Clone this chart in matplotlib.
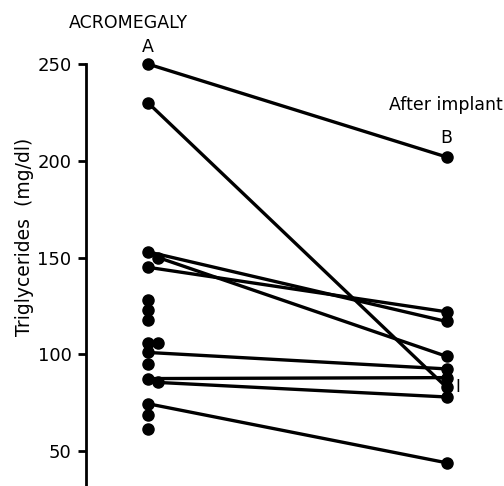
import matplotlib
matplotlib.use("Agg")
import matplotlib.pyplot as plt

# Paired measurements: before (A) and after implant (B)
pre_paired = [250, 230, 153, 150, 145, 101, 87.5, 85.5, 74.5]
post_paired = [202, 83, 117, 99, 122, 92.5, 88, 78, 44]
pre_paired_shift = [0, 0, 0, 1, 0, 0, 0, 1, 0]

# Baseline-only measurements
pre_only = [128, 123, 118, 106, 106, 95, 68.5, 61.5]
pre_only_shift = [0, 0, 0, 0, 1, 0, 0, 0]

yticks = [50, 100, 150, 200, 250]

W, H = 504, 486
fig = plt.figure(figsize=(W / 100, H / 100), dpi=100)
ax = fig.add_axes([86 / W, 0, (W - 86) / W, 1])

SHIFT = 0.035
x_pre, x_post = 0.0, 1.0

for v0, v1, s in zip(pre_paired, post_paired, pre_paired_shift):
    ax.plot([x_pre + s * SHIFT, x_post], [v0, v1], color="black", lw=2.4,
             marker="o", ms=8, solid_capstyle="round", zorder=3)

for v, s in zip(pre_only, pre_only_shift):
    ax.plot([x_pre + s * SHIFT], [v], color="black", marker="o", ms=8,
            ls="none", zorder=3)

ax.set_xlim(-0.2077, 1.1926)
ax.set_ylim(32.0, 283.1)

for sp in ["top", "right", "bottom"]:
    ax.spines[sp].set_visible(False)
ax.spines["left"].set_bounds(32.0, 250)
ax.spines["left"].set_linewidth(2.0)
ax.set_xticks([])
ax.set_yticks(yticks)
ax.set_yticklabels([str(t) for t in yticks])
ax.tick_params(axis="y", direction="out", length=6, width=2.0, pad=4.5,
               labelsize=13)

fig.text(128 / W, 1 - 23 / H, "ACROMEGALY", ha="center", va="center",
         fontsize=12.5)
ax.text(x_pre, 250 + 9, "A", ha="center", va="center", fontsize=12.5)
ax.text(x_post, 202 + 10, "B", ha="center", va="center", fontsize=12.5)
fig.text(446 / W, 1 - 105 / H, "After implant", ha="center", va="center",
         fontsize=12.5)
ax.text(x_post + 0.038, 83, "I", ha="center", va="center", fontsize=12)
fig.text(25 / W, 1 - 237 / H, "Triglycerides  (mg/dl)", ha="center",
         va="center", rotation=90, fontsize=13.5)

fig.savefig("out.png", dpi=100)
